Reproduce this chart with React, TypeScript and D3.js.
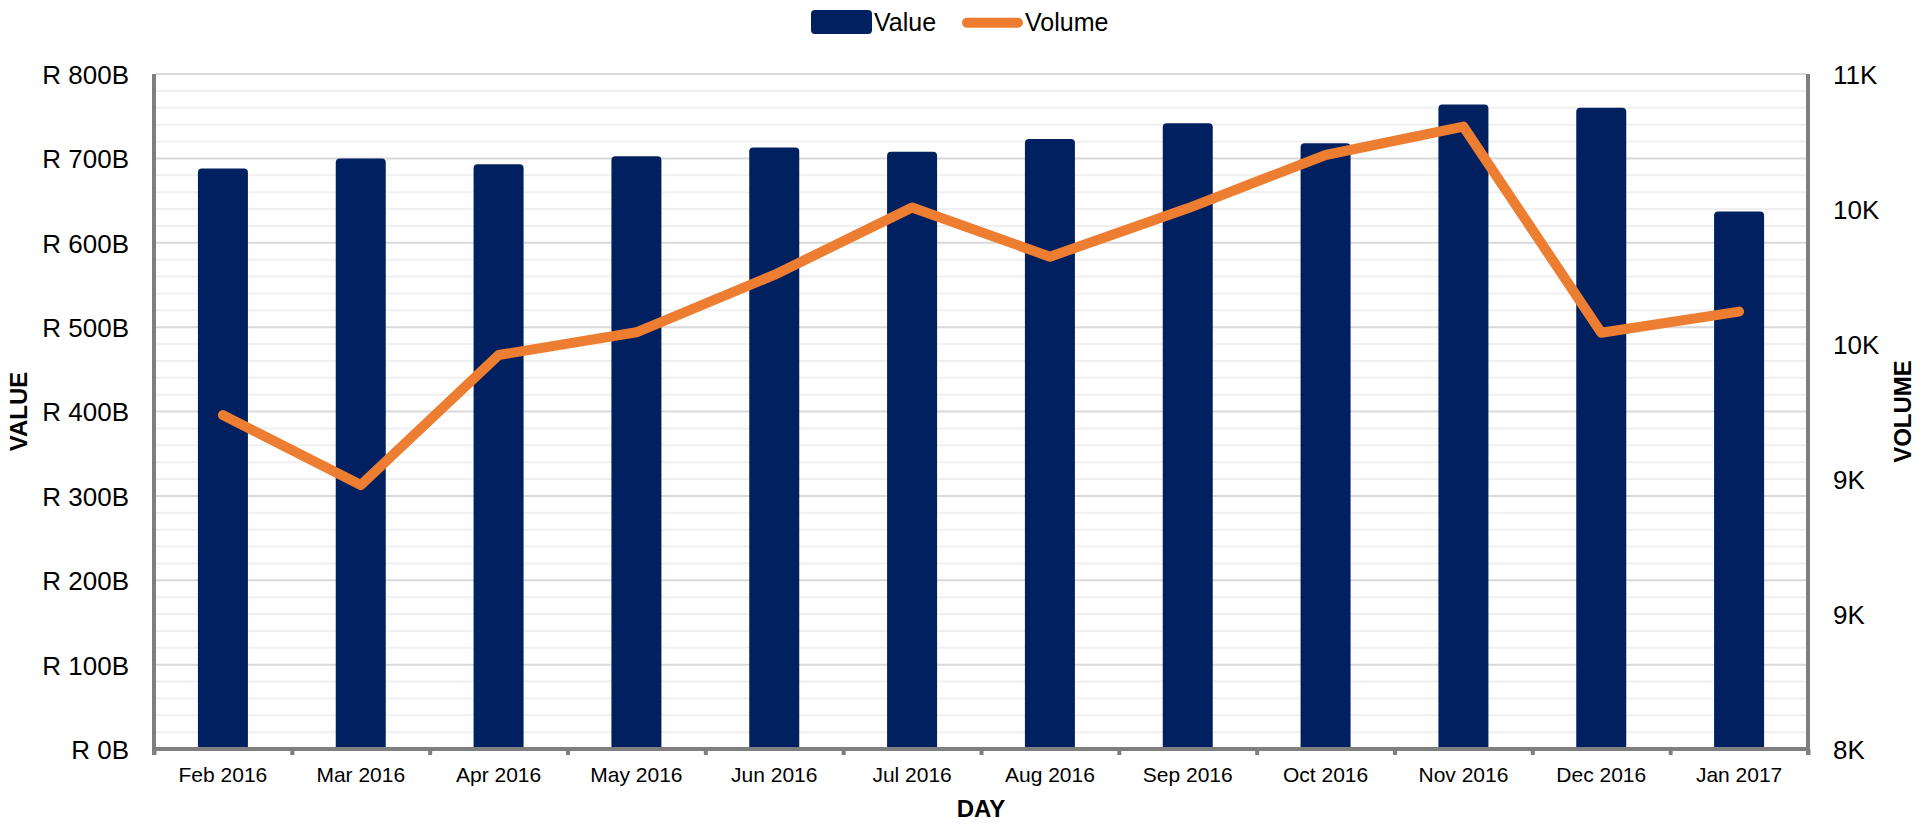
import React, { useEffect, useRef } from "react";
import * as d3 from "d3";

// chart data
const months = ["Feb 2016", "Mar 2016", "Apr 2016", "May 2016", "Jun 2016", "Jul 2016",
  "Aug 2016", "Sep 2016", "Oct 2016", "Nov 2016", "Dec 2016", "Jan 2017"];
const valueB = [688, 700, 693, 702.5, 713, 708, 723, 741.5, 718, 764, 760, 637];
const volume = [9484, 9173, 9751, 9852, 10107, 10407, 10188, 10403, 10640, 10766, 9850, 9944];
const valueTicks = [0, 100, 200, 300, 400, 500, 600, 700, 800];
const volumeTicks = [8000, 8600, 9200, 9800, 10400, 11000];

const W = 1921;
const H = 829;
const FONT = "'Liberation Sans', Arial, sans-serif";
const NAVY = "#002060";
const ORANGE = "#ED7D31";
const AXIS = "#7f7f7f";

function roundTop(x: number, y: number, w: number, h: number, r: number) {
  return `M${x},${y + h}V${y + r}Q${x},${y} ${x + r},${y}H${x + w - r}Q${x + w},${y} ${x + w},${y + r}V${y + h}Z`;
}

export default function App() {
  const ref = useRef<SVGSVGElement>(null);

  useEffect(() => {
    const left = 154, right = 1808, top = 74, bottom = 749;
    const barW = 50;

    const x = d3.scaleBand().domain(months).range([left, right]).padding(0);
    const xEdge = d3.scaleLinear().domain([0, months.length]).range([left, right]);
    const yL = d3.scaleLinear().domain([0, 800]).range([bottom, top]);
    const yR = d3.scaleLinear().domain([8000, 11000]).range([bottom, top]);

    const svg = d3.select(ref.current);
    svg.selectAll("*").remove();

    // gridlines: major every 100B, minor every 20B
    const grid = d3.range(0, 801, 20);
    svg.append("g")
      .selectAll("line")
      .data(grid)
      .enter()
      .append("line")
      .attr("x1", left + 2)
      .attr("x2", right - 2)
      .attr("y1", d => yL(d))
      .attr("y2", d => yL(d))
      .attr("stroke", d => (d % 100 === 0 ? "#d9d9d9" : "#f0f0f0"))
      .attr("stroke-width", 2);

    // bars
    svg.append("g")
      .selectAll("path")
      .data(valueB)
      .enter()
      .append("path")
      .attr("d", (d, i) => {
        const cx = (x(months[i]) as number) + x.bandwidth() / 2;
        return roundTop(cx - barW / 2, yL(d), barW, bottom - yL(d), 4);
      })
      .attr("fill", NAVY);

    // volume line
    const line = d3.line<number>()
      .x((d, i) => (x(months[i]) as number) + x.bandwidth() / 2)
      .y(d => yR(d));

    svg.append("path")
      .datum(volume)
      .attr("d", line)
      .attr("fill", "none")
      .attr("stroke", ORANGE)
      .attr("stroke-width", 10)
      .attr("stroke-linecap", "round")
      .attr("stroke-linejoin", "round");

    // axis lines
    const axisG = svg.append("g").attr("stroke", AXIS).attr("stroke-width", 4);
    axisG.append("line").attr("x1", left).attr("x2", left).attr("y1", top).attr("y2", bottom + 6);
    axisG.append("line").attr("x1", right).attr("x2", right).attr("y1", top).attr("y2", bottom + 6);
    axisG.append("line").attr("x1", left - 2).attr("x2", right + 2).attr("y1", bottom).attr("y2", bottom);

    // bottom tick marks at band edges
    const edgeAxis = d3.axisBottom(xEdge).ticks(months.length).tickSize(6).tickFormat(() => "");
    const eg = svg.append("g").attr("transform", `translate(0,${bottom})`).call(edgeAxis);
    eg.select(".domain").remove();
    eg.selectAll("line").attr("stroke", AXIS).attr("stroke-width", 4);

    // left axis labels
    const la = svg.append("g")
      .attr("transform", `translate(${left},0)`)
      .call(d3.axisLeft(yL).tickValues(valueTicks).tickSize(0).tickPadding(25)
        .tickFormat(d => `R ${d}B`));
    la.select(".domain").remove();
    la.selectAll("text").attr("font-family", FONT).attr("font-size", 26)
      .attr("fill", "#000").attr("dy", "0.36em");

    // right axis labels
    const ra = svg.append("g")
      .attr("transform", `translate(${right},0)`)
      .call(d3.axisRight(yR).tickValues(volumeTicks).tickSize(0).tickPadding(25)
        .tickFormat(d => `${Math.round((d as number) / 1000)}K`));
    ra.select(".domain").remove();
    ra.selectAll("text").attr("font-family", FONT).attr("font-size", 26)
      .attr("fill", "#000").attr("dy", "0.36em");

    // bottom labels
    const ba = svg.append("g")
      .attr("transform", `translate(0,${bottom})`)
      .call(d3.axisBottom(x).tickSize(0).tickPadding(18));
    ba.select(".domain").remove();
    ba.selectAll("text").attr("font-family", FONT).attr("font-size", 21).attr("fill", "#000");

    // axis titles
    svg.append("text")
      .attr("transform", `translate(18.5,${(top + bottom) / 2}) rotate(-90)`)
      .attr("text-anchor", "middle").attr("dominant-baseline", "central")
      .attr("font-family", FONT).attr("font-weight", "bold").attr("font-size", 24)
      .text("VALUE");
    svg.append("text")
      .attr("transform", `translate(1902,${(top + bottom) / 2}) rotate(-90)`)
      .attr("text-anchor", "middle").attr("dominant-baseline", "central")
      .attr("font-family", FONT).attr("font-weight", "bold").attr("font-size", 24)
      .text("VOLUME");
    svg.append("text")
      .attr("x", (left + right) / 2).attr("y", 817)
      .attr("text-anchor", "middle")
      .attr("font-family", FONT).attr("font-weight", "bold").attr("font-size", 24)
      .text("DAY");

    // legend
    const lg = svg.append("g");
    lg.append("rect").attr("x", 811).attr("y", 10).attr("width", 61).attr("height", 24)
      .attr("rx", 4).attr("fill", NAVY);
    lg.append("text").attr("x", 874).attr("y", 30.6)
      .attr("font-family", FONT).attr("font-size", 25).text("Value");
    lg.append("line").attr("x1", 967).attr("x2", 1018).attr("y1", 22.7).attr("y2", 22.7)
      .attr("stroke", ORANGE).attr("stroke-width", 10).attr("stroke-linecap", "round");
    lg.append("text").attr("x", 1025).attr("y", 30.6)
      .attr("font-family", FONT).attr("font-size", 25).text("Volume");
  }, []);

  return (
    <svg
      ref={ref}
      width={W}
      height={H}
      style={{ position: "absolute", left: 0, top: 0, display: "block", background: "#fff" }}
    />
  );
}
